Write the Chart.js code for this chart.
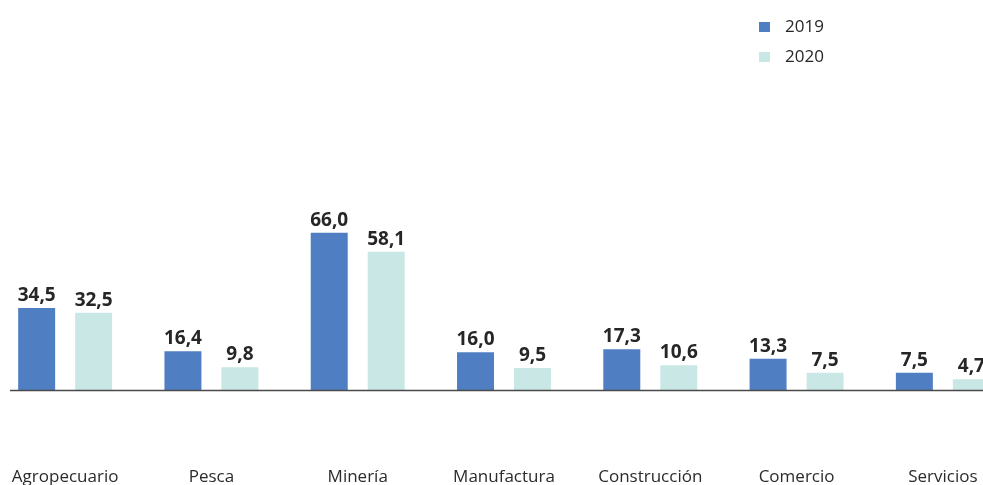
<!DOCTYPE html>
<html>
<head>
<meta charset="utf-8">
<script src="https://cdn.jsdelivr.net/npm/chart.js@4"></script>
<style>
  html, body { margin: 0; padding: 0; background: #fff; overflow: hidden; }
  #grafico { position: absolute; left: -18px; top: 0; }
</style>
</head>
<body>
<canvas id="grafico" width="1034" height="487"></canvas>
<script>
const sectores = ["Agropecuario", "Pesca", "Minería", "Manufactura", "Construcción", "Comercio", "Servicios"];
const valores2019 = [34.5, 16.4, 66.0, 16.0, 17.3, 13.3, 7.5];
const valores2020 = [32.5, 9.8, 58.1, 9.5, 10.6, 7.5, 4.7];
const anios = ["2019", "2020"];

const FUENTE = "'Open Sans', 'Noto Sans', sans-serif";
const desplazamiento = 18; // canvas starts 18px left of the page

function formatoComa(v) {
    return v.toFixed(1).replace(".", ",");
}

// baseline, value labels and vertical legend
const extras = {
    id: "extras",
    afterDatasetsDraw(chart) {
        const ctx = chart.ctx;
        const y0 = chart.scales.y.getPixelForValue(0);

        ctx.save();
        ctx.strokeStyle = "#4a4a4a";
        ctx.lineWidth = 1.5;
        ctx.beginPath();
        ctx.moveTo(10 + desplazamiento, y0);
        ctx.lineTo(chart.width, y0);
        ctx.stroke();

        ctx.fillStyle = "#262626";
        ctx.font = "bold 19px " + FUENTE;
        ctx.textAlign = "center";
        ctx.textBaseline = "bottom";
        chart.data.datasets.forEach((ds, i) => {
            chart.getDatasetMeta(i).data.forEach((bar, j) => {
                ctx.fillText(formatoComa(ds.data[j]), bar.x, bar.y - 3);
            });
        });

        ctx.font = "17px " + FUENTE;
        ctx.textAlign = "left";
        ctx.textBaseline = "middle";
        chart.data.datasets.forEach((ds, i) => {
            const yc = 27 + i * 30;
            ctx.fillStyle = ds.backgroundColor;
            ctx.fillRect(759 + desplazamiento, yc - 5, 11, 10);
            ctx.fillStyle = "#262626";
            ctx.fillText(ds.label, 785 + desplazamiento, yc);
        });
        ctx.restore();
    }
};

new Chart(document.getElementById("grafico").getContext("2d"), {
    type: "bar",
    data: {
        labels: sectores,
        datasets: [
            { label: anios[0], data: valores2019, backgroundColor: "#4f7fc2" },
            { label: anios[1], data: valores2020, backgroundColor: "#c9e8e5" }
        ]
    },
    options: {
        responsive: false,
        animation: false,
        layout: { padding: { left: 10, right: 0, top: 0, bottom: 0 } },
        plugins: { legend: { display: false }, tooltip: { enabled: false } },
        datasets: { bar: { categoryPercentage: 0.779, barPercentage: 0.649 } },
        scales: {
            x: {
                grid: { display: true, drawOnChartArea: false, drawTicks: true, tickLength: 76, color: "rgba(0,0,0,0)" },
                border: { display: false },
                ticks: { color: "#2b2b2b", font: { family: FUENTE, size: 17 }, padding: 0, maxRotation: 0, autoSkip: false }
            },
            y: {
                display: false,
                min: 0,
                max: 163.3
            }
        }
    },
    plugins: [extras]
});
</script>
</body>
</html>
